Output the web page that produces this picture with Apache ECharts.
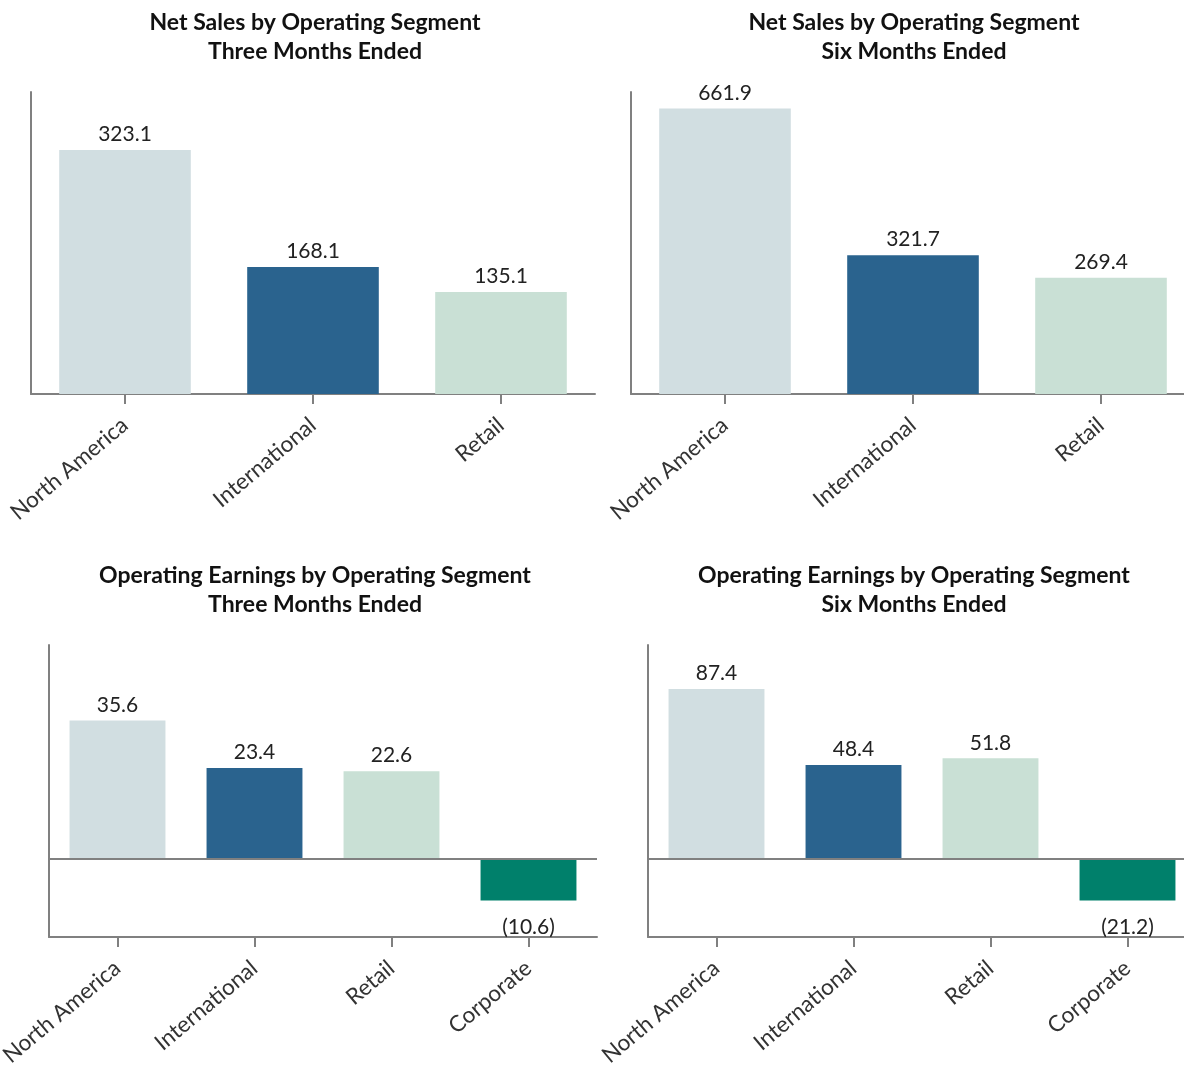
<!DOCTYPE html>
<html>
<head>
<meta charset="utf-8">
<script src="https://cdn.jsdelivr.net/npm/echarts@6/dist/echarts.min.js"></script>
<style>
html,body{margin:0;padding:0;background:#fff;}
#c{width:1184px;height:1067px;}
</style>
</head>
<body>
<div id="c"></div>
<script>
const salesCategories = ['North America', 'International', 'Retail'];
const earningsCategories = ['North America', 'International', 'Retail', 'Corporate'];
const salesThreeMonths = [323.1, 168.1, 135.1];
const salesSixMonths = [661.9, 321.7, 269.4];
const earningsThreeMonths = [35.6, 23.4, 22.6, -10.6];
const earningsSixMonths = [87.4, 48.4, 51.8, -21.2];
const titles = [
  'Net Sales by Operating Segment\nThree Months Ended',
  'Net Sales by Operating Segment\nSix Months Ended',
  'Operating Earnings by Operating Segment\nThree Months Ended',
  'Operating Earnings by Operating Segment\nSix Months Ended'
];

const colors = ['#d1dee1', '#2a638e', '#c9e0d5', '#00806b'];
const FONT = 'Lato';
const axisColor = '#808080';

const chart = echarts.init(document.getElementById('c'));

const grids = [
  {left: 31, top: 92, width: 564, height: 302, outerBoundsMode: 'none', containLabel: false},
  {left: 631, top: 92, width: 564, height: 302, outerBoundsMode: 'none', containLabel: false},
  {left: 49, top: 645, width: 548, height: 292, outerBoundsMode: 'none', containLabel: false},
  {left: 648, top: 645, width: 548, height: 292, outerBoundsMode: 'none', containLabel: false}
];
const yRanges = [[0, 400], [0, 700], [-20, 55], [-40, 110]];
const cats = [salesCategories, salesCategories, earningsCategories, earningsCategories];
const vals = [salesThreeMonths, salesSixMonths, earningsThreeMonths, earningsSixMonths];
const titleCenters = [315, 914, 315, 914];
const titleTops = [8, 8, 561, 561];

function fmt(v) {
  return v < 0 ? '(' + Math.abs(v).toFixed(1) + ')' : v.toFixed(1);
}

const option = {
  animation: false,
  backgroundColor: '#fff',
  title: titles.map((t, i) => ({
    text: t,
    left: titleCenters[i],
    top: titleTops[i],
    padding: 0,
    textAlign: 'center',
    textStyle: {fontFamily: FONT, fontWeight: 'bold', fontSize: 23, lineHeight: 29, color: '#111'}
  })),
  grid: grids,
  xAxis: cats.map((c, i) => ({
    type: 'category',
    gridIndex: i,
    data: c,
    axisLine: {onZero: false, lineStyle: {color: axisColor, width: 2}},
    axisTick: {show: true, alignWithLabel: true, length: 10, lineStyle: {color: axisColor, width: 2}},
    axisLabel: {rotate: 40, fontFamily: FONT, fontSize: 22.5, color: '#333', margin: 28, interval: 0}
  })),
  yAxis: yRanges.map((r, i) => ({
    type: 'value',
    gridIndex: i,
    min: r[0],
    max: r[1],
    axisLine: {show: true, lineStyle: {color: axisColor, width: 2}},
    axisTick: {show: false},
    axisLabel: {show: false},
    splitLine: {show: false}
  })),
  series: vals.map((v, i) => ({
    type: 'bar',
    xAxisIndex: i,
    yAxisIndex: i,
    barCategoryGap: '30%',
    data: v.map((d, j) => ({
      value: d,
      itemStyle: {color: colors[j]},
      label: d < 0 ? {position: 'bottom', distance: 16} : undefined
    })),
    label: {
      show: true,
      position: 'top',
      distance: 5,
      fontFamily: FONT,
      fontSize: 21,
      color: '#222',
      formatter: p => fmt(p.value)
    },
    markLine: i >= 2 ? {
      silent: true,
      symbol: 'none',
      label: {show: false},
      lineStyle: {color: axisColor, width: 2, type: 'solid'},
      data: [{yAxis: 0}]
    } : undefined
  }))
};
chart.setOption(option);
</script>
</body>
</html>
